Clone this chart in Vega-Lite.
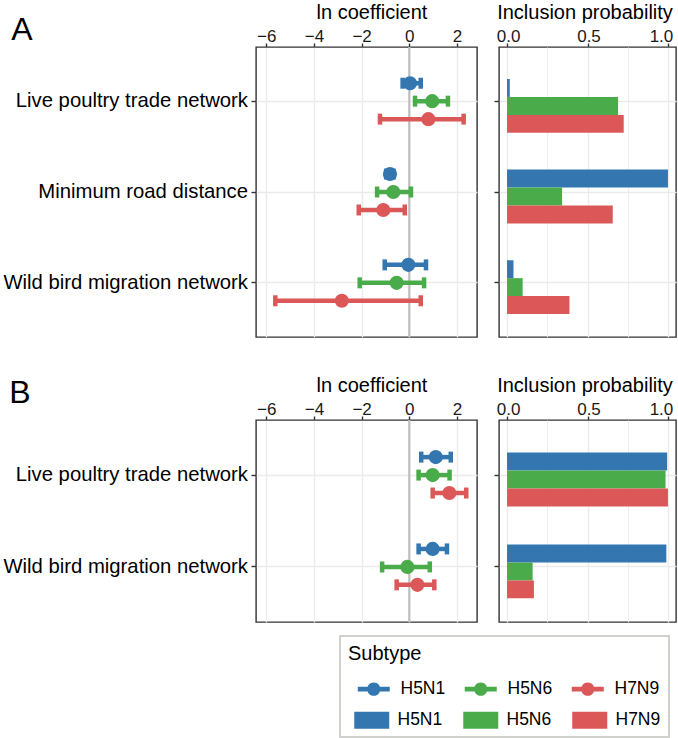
{
"$schema": "https://vega.github.io/schema/vega-lite/v6.json",
"padding": {"left": 2, "top": 1, "right": 0, "bottom": 2},
"background": "white",
"config": {
  "font": "Liberation Sans",
  "view": {"stroke": "#333333", "strokeWidth": 1.4},
  "axis": {"domain": false, "labelColor": "#1a1a1a", "titleColor": "#000000", "titleFontWeight": "normal", "titleFontSize": 20, "labelFontSize": 17, "tickColor": "#333333", "tickWidth": 1.4, "tickSize": 4, "gridColor": "#ebebeb"},
  "title": {"fontSize": 32, "fontWeight": "normal", "anchor": "start", "color": "#000000"}
},
"datasets": {
  "coefA": [
    {"covariate": "Live poultry trade network", "subtype": "H5N1", "mean": 0.03, "lower": -0.28, "upper": 0.48},
    {"covariate": "Live poultry trade network", "subtype": "H5N6", "mean": 0.96, "lower": 0.24, "upper": 1.62},
    {"covariate": "Live poultry trade network", "subtype": "H7N9", "mean": 0.80, "lower": -1.23, "upper": 2.28},
    {"covariate": "Minimum road distance", "subtype": "H5N1", "mean": -0.81, "lower": -0.97, "upper": -0.66},
    {"covariate": "Minimum road distance", "subtype": "H5N6", "mean": -0.67, "lower": -1.35, "upper": 0.07},
    {"covariate": "Minimum road distance", "subtype": "H7N9", "mean": -1.09, "lower": -2.12, "upper": -0.19},
    {"covariate": "Wild bird migration network", "subtype": "H5N1", "mean": -0.04, "lower": -1.03, "upper": 0.70},
    {"covariate": "Wild bird migration network", "subtype": "H5N6", "mean": -0.53, "lower": -2.08, "upper": 0.62},
    {"covariate": "Wild bird migration network", "subtype": "H7N9", "mean": -2.83, "lower": -5.62, "upper": 0.48}
  ],
  "incA": [
    {"covariate": "Live poultry trade network", "subtype": "H5N1", "prob": 0.017},
    {"covariate": "Live poultry trade network", "subtype": "H5N6", "prob": 0.69},
    {"covariate": "Live poultry trade network", "subtype": "H7N9", "prob": 0.725},
    {"covariate": "Minimum road distance", "subtype": "H5N1", "prob": 1.0},
    {"covariate": "Minimum road distance", "subtype": "H5N6", "prob": 0.342},
    {"covariate": "Minimum road distance", "subtype": "H7N9", "prob": 0.657},
    {"covariate": "Wild bird migration network", "subtype": "H5N1", "prob": 0.04},
    {"covariate": "Wild bird migration network", "subtype": "H5N6", "prob": 0.097},
    {"covariate": "Wild bird migration network", "subtype": "H7N9", "prob": 0.388}
  ],
  "coefB": [
    {"covariate": "Live poultry trade network", "subtype": "H5N1", "mean": 1.11, "lower": 0.50, "upper": 1.74},
    {"covariate": "Live poultry trade network", "subtype": "H5N6", "mean": 0.98, "lower": 0.39, "upper": 1.69},
    {"covariate": "Live poultry trade network", "subtype": "H7N9", "mean": 1.68, "lower": 0.98, "upper": 2.39},
    {"covariate": "Wild bird migration network", "subtype": "H5N1", "mean": 0.98, "lower": 0.39, "upper": 1.58},
    {"covariate": "Wild bird migration network", "subtype": "H5N6", "mean": -0.08, "lower": -1.14, "upper": 0.86},
    {"covariate": "Wild bird migration network", "subtype": "H7N9", "mean": 0.34, "lower": -0.53, "upper": 1.05}
  ],
  "incB": [
    {"covariate": "Live poultry trade network", "subtype": "H5N1", "prob": 0.995},
    {"covariate": "Live poultry trade network", "subtype": "H5N6", "prob": 0.985},
    {"covariate": "Live poultry trade network", "subtype": "H7N9", "prob": 1.0},
    {"covariate": "Wild bird migration network", "subtype": "H5N1", "prob": 0.99},
    {"covariate": "Wild bird migration network", "subtype": "H5N6", "prob": 0.159},
    {"covariate": "Wild bird migration network", "subtype": "H7N9", "prob": 0.167}
  ]
},
"spacing": 35,
"vconcat": [
  {
    "title": {"text": "A", "dy": 50, "dx": 9},
    "spacing": 14,
    "hconcat": [
      {
        "width": 221, "height": 290,
        "layer": [
          {"data": {"values": [{"ref": 0}]}, "mark": {"type": "rule", "color": "#bebebe", "strokeWidth": 2.2},
           "encoding": {"x": {"field": "ref", "type": "quantitative", "scale": {"domain": [-6.43, 2.84], "nice": false, "zero": false},
             "axis": {"orient": "top", "title": "ln coefficient", "titleX": 115.5, "titleAlign": "center", "values": [-6,-5,-4,-3,-2,-1,0,1,2], "labelExpr": "datum.value % 2 === 0 ? datum.label : ''", "labelFlush": false, "labelBaseline": "alphabetic", "labelPadding": 2, "titlePadding": 5, "grid": true,
               "gridWidth": {"condition": {"test": "datum.value % 2 !== 0", "value": 0.9}, "value": 1.4},
               "tickOpacity": {"condition": {"test": "datum.value % 2 !== 0", "value": 0}, "value": 1}}}}},
          {"data": {"name": "coefA"}, "mark": {"type": "rule", "strokeWidth": 4.5},
           "encoding": {"x": {"field": "lower", "type": "quantitative", "scale": {"domain": [-6.43, 2.84], "nice": false, "zero": false}}, "x2": {"field": "upper"},
             "y": {"field": "covariate", "type": "nominal", "sort": ["Live poultry trade network", "Minimum road distance", "Wild bird migration network"], "scale": {"paddingInner": 0.407, "paddingOuter": 0.3}, "axis": {"title": null, "labelFontSize": 20.3, "labelColor": "#000000", "labelPadding": 3.5, "tickSize": 5, "grid": true, "gridWidth": 1.6, "bandPosition": 0.5, "labelLimit": 400}},
             "yOffset": {"field": "subtype", "type": "nominal", "sort": ["H5N1", "H5N6", "H7N9"], "scale": {"paddingInner": 0, "paddingOuter": 0}},
             "color": {"field": "subtype", "type": "nominal", "scale": {"range": ["#3477b0", "#4aab4a", "#dc5858"]}}}},
          {"data": {"name": "coefA"}, "mark": {"type": "tick", "thickness": 4.5, "size": 11, "opacity": 1},
           "encoding": {"x": {"field": "lower", "type": "quantitative", "scale": {"domain": [-6.43, 2.84], "nice": false, "zero": false}},
             "y": {"field": "covariate", "type": "nominal", "sort": ["Live poultry trade network", "Minimum road distance", "Wild bird migration network"]},
             "yOffset": {"field": "subtype", "type": "nominal", "sort": ["H5N1", "H5N6", "H7N9"]},
             "color": {"field": "subtype", "type": "nominal"}}},
          {"data": {"name": "coefA"}, "mark": {"type": "tick", "thickness": 4.5, "size": 11, "opacity": 1},
           "encoding": {"x": {"field": "upper", "type": "quantitative", "scale": {"domain": [-6.43, 2.84], "nice": false, "zero": false}},
             "y": {"field": "covariate", "type": "nominal", "sort": ["Live poultry trade network", "Minimum road distance", "Wild bird migration network"]},
             "yOffset": {"field": "subtype", "type": "nominal", "sort": ["H5N1", "H5N6", "H7N9"]},
             "color": {"field": "subtype", "type": "nominal"}}},
          {"data": {"name": "coefA"}, "mark": {"type": "point", "filled": true, "size": 200, "opacity": 1},
           "encoding": {"x": {"field": "mean", "type": "quantitative", "scale": {"domain": [-6.43, 2.84], "nice": false, "zero": false}},
             "y": {"field": "covariate", "type": "nominal", "sort": ["Live poultry trade network", "Minimum road distance", "Wild bird migration network"]},
             "yOffset": {"field": "subtype", "type": "nominal", "sort": ["H5N1", "H5N6", "H7N9"]},
             "color": {"field": "subtype", "type": "nominal",
               "legend": {"orient": "none", "legendX": 100, "legendY": 633, "direction": "horizontal", "columns": 3, "title": null,
                 "symbolType": "M-1,-0.357H3.571V0.357H-1Z M0.357,0A0.929,0.929,0,1,1,2.214,0A0.929,0.929,0,1,1,0.357,0Z",
                 "symbolSize": 196, "symbolStrokeWidth": 0, "symbolOpacity": 1, "labelFontSize": 17.5, "labelColor": "#000000", "labelOffset": 27, "columnPadding": 17, "padding": 0}}}}
        ]
      },
      {
        "width": 177, "height": 290,
        "data": {"name": "incA"},
        "mark": {"type": "bar"},
        "encoding": {
          "x": {"field": "prob", "type": "quantitative", "scale": {"domain": [-0.05, 1.05], "nice": false, "zero": false},
            "axis": {"orient": "top", "title": "Inclusion probability", "titleX": 85.5, "titleAlign": "center", "values": [0, 0.25, 0.5, 0.75, 1], "format": ".1f", "labelExpr": "(datum.value * 4) % 2 === 0 ? datum.label : ''", "labelFlush": false, "labelBaseline": "alphabetic", "labelPadding": 2, "titlePadding": 5,
              "labelOffset": {"condition": {"test": "datum.value === 1", "value": -7}, "value": 1}, "grid": true,
              "gridWidth": {"condition": {"test": "(datum.value * 4) % 2 !== 0", "value": 0.9}, "value": 1.4},
              "tickOpacity": {"condition": {"test": "(datum.value * 4) % 2 !== 0", "value": 0}, "value": 1}}},
          "x2": {"datum": 0},
          "y": {"field": "covariate", "type": "nominal", "sort": ["Live poultry trade network", "Minimum road distance", "Wild bird migration network"], "scale": {"paddingInner": 0.505, "paddingOuter": 0.353}, "axis": {"title": null, "labels": false, "tickSize": 5, "grid": true, "gridWidth": 1.6, "bandPosition": 0.5}},
          "yOffset": {"field": "subtype", "type": "nominal", "sort": ["H5N1", "H5N6", "H7N9"], "scale": {"paddingInner": 0, "paddingOuter": 0}},
          "fill": {"field": "subtype", "type": "nominal", "scale": {"domain": ["H5N1", "H5N6", "H7N9"], "range": ["#3477b0", "#4aab4a", "#dc5858"]},
            "legend": {"orient": "none", "legendX": 84, "legendY": 589, "direction": "horizontal", "columns": 3, "title": "Subtype", "titleFontSize": 20, "titleFontWeight": "normal", "titleColor": "#000000", "titlePadding": 47,
              "symbolType": "M-0.294,-1H3.824V1H-0.294Z", "symbolSize": 289, "symbolStrokeWidth": 0, "symbolOpacity": 1, "labelFontSize": 17.5, "labelColor": "#000000", "labelOffset": 32, "columnPadding": 14, "padding": 8, "strokeColor": "#d0d0cc",
              "encode": {"legend": {"update": {"strokeWidth": {"value": 2}}}}}}
        }
      }
    ]
  },
  {
    "title": {"text": "B", "dy": 40, "dx": 7},
    "spacing": 14,
    "hconcat": [
      {
        "width": 221, "height": 202,
        "layer": [
          {"data": {"values": [{"ref": 0}]}, "mark": {"type": "rule", "color": "#bebebe", "strokeWidth": 2.2},
           "encoding": {"x": {"field": "ref", "type": "quantitative", "scale": {"domain": [-6.43, 2.84], "nice": false, "zero": false},
             "axis": {"orient": "top", "title": "ln coefficient", "titleX": 115.5, "titleAlign": "center", "values": [-6,-5,-4,-3,-2,-1,0,1,2], "labelExpr": "datum.value % 2 === 0 ? datum.label : ''", "labelFlush": false, "labelBaseline": "alphabetic", "labelPadding": 2, "titlePadding": 5, "grid": true,
               "gridWidth": {"condition": {"test": "datum.value % 2 !== 0", "value": 0.9}, "value": 1.4},
               "tickOpacity": {"condition": {"test": "datum.value % 2 !== 0", "value": 0}, "value": 1}}}}},
          {"data": {"name": "coefB"}, "mark": {"type": "rule", "strokeWidth": 4.5},
           "encoding": {"x": {"field": "lower", "type": "quantitative", "scale": {"domain": [-6.43, 2.84], "nice": false, "zero": false}}, "x2": {"field": "upper"},
             "y": {"field": "covariate", "type": "nominal", "sort": ["Live poultry trade network", "Wild bird migration network"], "scale": {"paddingInner": 0.413, "paddingOuter": 0.3065}, "axis": {"title": null, "labelFontSize": 20.3, "labelColor": "#000000", "labelPadding": 3.5, "tickSize": 5, "grid": true, "gridWidth": 1.6, "bandPosition": 0.5, "labelLimit": 400}},
             "yOffset": {"field": "subtype", "type": "nominal", "sort": ["H5N1", "H5N6", "H7N9"], "scale": {"paddingInner": 0, "paddingOuter": 0}},
             "color": {"field": "subtype", "type": "nominal"}}},
          {"data": {"name": "coefB"}, "mark": {"type": "tick", "thickness": 4.5, "size": 11, "opacity": 1},
           "encoding": {"x": {"field": "lower", "type": "quantitative", "scale": {"domain": [-6.43, 2.84], "nice": false, "zero": false}},
             "y": {"field": "covariate", "type": "nominal", "sort": ["Live poultry trade network", "Wild bird migration network"]},
             "yOffset": {"field": "subtype", "type": "nominal", "sort": ["H5N1", "H5N6", "H7N9"]},
             "color": {"field": "subtype", "type": "nominal"}}},
          {"data": {"name": "coefB"}, "mark": {"type": "tick", "thickness": 4.5, "size": 11, "opacity": 1},
           "encoding": {"x": {"field": "upper", "type": "quantitative", "scale": {"domain": [-6.43, 2.84], "nice": false, "zero": false}},
             "y": {"field": "covariate", "type": "nominal", "sort": ["Live poultry trade network", "Wild bird migration network"]},
             "yOffset": {"field": "subtype", "type": "nominal", "sort": ["H5N1", "H5N6", "H7N9"]},
             "color": {"field": "subtype", "type": "nominal"}}},
          {"data": {"name": "coefB"}, "mark": {"type": "point", "filled": true, "size": 200, "opacity": 1},
           "encoding": {"x": {"field": "mean", "type": "quantitative", "scale": {"domain": [-6.43, 2.84], "nice": false, "zero": false}},
             "y": {"field": "covariate", "type": "nominal", "sort": ["Live poultry trade network", "Wild bird migration network"]},
             "yOffset": {"field": "subtype", "type": "nominal", "sort": ["H5N1", "H5N6", "H7N9"]},
             "color": {"field": "subtype", "type": "nominal"}}}
        ]
      },
      {
        "width": 177, "height": 202,
        "data": {"name": "incB"},
        "mark": {"type": "bar"},
        "encoding": {
          "x": {"field": "prob", "type": "quantitative", "scale": {"domain": [-0.05, 1.05], "nice": false, "zero": false},
            "axis": {"orient": "top", "title": "Inclusion probability", "titleX": 85.5, "titleAlign": "center", "values": [0, 0.25, 0.5, 0.75, 1], "format": ".1f", "labelExpr": "(datum.value * 4) % 2 === 0 ? datum.label : ''", "labelFlush": false, "labelBaseline": "alphabetic", "labelPadding": 2, "titlePadding": 5,
              "labelOffset": {"condition": {"test": "datum.value === 1", "value": -7}, "value": 1}, "grid": true,
              "gridWidth": {"condition": {"test": "(datum.value * 4) % 2 !== 0", "value": 0.9}, "value": 1.4},
              "tickOpacity": {"condition": {"test": "(datum.value * 4) % 2 !== 0", "value": 0}, "value": 1}}},
          "x2": {"datum": 0},
          "y": {"field": "covariate", "type": "nominal", "sort": ["Live poultry trade network", "Wild bird migration network"], "scale": {"paddingInner": 0.511, "paddingOuter": 0.355}, "axis": {"title": null, "labels": false, "tickSize": 5, "grid": true, "gridWidth": 1.6, "bandPosition": 0.5}},
          "yOffset": {"field": "subtype", "type": "nominal", "sort": ["H5N1", "H5N6", "H7N9"], "scale": {"paddingInner": 0, "paddingOuter": 0}},
          "fill": {"field": "subtype", "type": "nominal"}
        }
      }
    ]
  }
]
}
